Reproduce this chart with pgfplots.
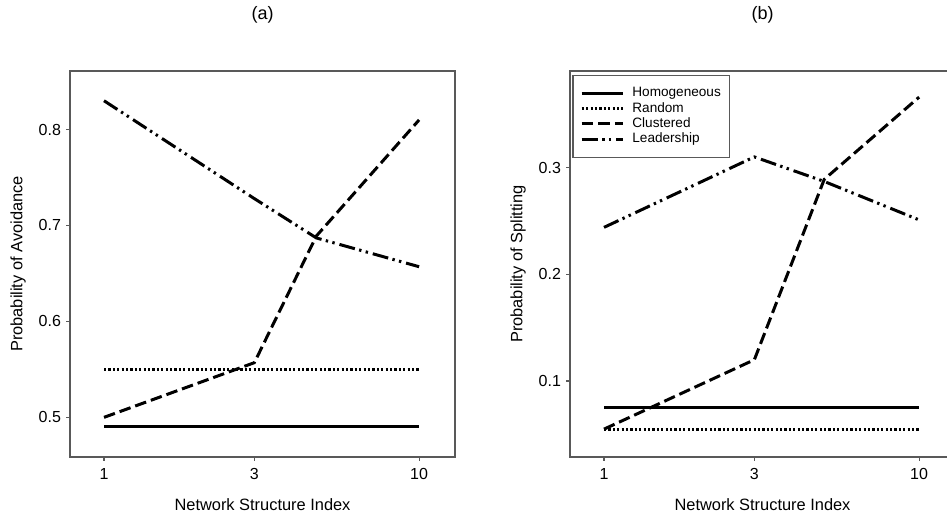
\documentclass[border=0pt]{standalone}
\usepackage{fontspec}
\setmainfont{Liberation Sans}
\usepackage{pgfplots}
\pgfplotsset{compat=1.18}

\tikzset{
  homog/.style={black, line width=1.5pt, solid},
  rand/.style={black, line width=1.5pt, dash pattern=on 1.1pt off 1.1pt},
  clust/.style={black, line width=1.5pt, dash pattern=on 5.8pt off 2.5pt},
  lead/.style={black, line width=1.5pt, dash pattern=on 8pt off 2.2pt on 1.2pt off 2.2pt on 1.2pt off 2.5pt},
}

\begin{document}
\begin{tikzpicture}
\useasboundingbox (0,0) rectangle (473.5pt,258.5pt);

% (a) avoidance
\begin{axis}[
  xmode=log, scale only axis, width=192.5pt, height=193pt,
  at={(35pt,30pt)}, anchor=south west,
  xmin=0.78, xmax=13.0,
  xtick={1,3,10}, xticklabels={1,3,10}, xminorticks=false,
  ymin=0.4587, ymax=0.861,
  ytick={0.5,0.6,0.7,0.8}, yticklabels={0.5,0.6,0.7,0.8},
  xtick pos=bottom, ytick pos=left, tick align=outside,
  major tick length=2pt,
  axis line style={draw=black!65, line width=0.8pt},
  tick style={draw=black!65, line width=0.6pt},
  tick label style={font=\fontsize{8}{9}\selectfont},
  yticklabel style={xshift=1pt},
  label style={font=\fontsize{8.2}{9}\selectfont},
  every axis title shift=0pt,
  title style={at={(0.5,1.145)}, anchor=center, font=\fontsize{9}{10}\selectfont},
  xlabel style={at={(axis description cs:0.5,-0.124)}, anchor=center},
  ylabel style={at={(axis description cs:-0.135,0.5)}, anchor=center},
  title={(a)}, xlabel={Network Structure Index}, ylabel={Probability of Avoidance}]
\addplot[homog, mark=none] coordinates {(1,0.49) (3,0.49) (4.72,0.49) (10,0.49)};
\addplot[rand, mark=none] coordinates {(1,0.55) (3,0.55) (4.72,0.55) (10,0.55)};
\addplot[clust, mark=none] coordinates {(1,0.50) (3,0.557) (4.72,0.689) (10,0.81)};
\addplot[lead, mark=none] coordinates {(1,0.83) (3,0.728) (4.72,0.687) (10,0.657)};
\end{axis}

% (b) splitting
\begin{axis}[
  xmode=log, scale only axis, width=192.5pt, height=193pt,
  at={(285pt,30pt)}, anchor=south west,
  xmin=0.78, xmax=13.0,
  xtick={1,3,10}, xticklabels={1,3,10}, xminorticks=false,
  ymin=0.0289, ymax=0.3905,
  ytick={0.1,0.2,0.3}, yticklabels={0.1,0.2,0.3},
  xtick pos=bottom, ytick pos=left, tick align=outside,
  major tick length=2pt,
  axis line style={draw=black!65, line width=0.8pt},
  tick style={draw=black!65, line width=0.6pt},
  tick label style={font=\fontsize{8}{9}\selectfont},
  yticklabel style={xshift=1pt},
  label style={font=\fontsize{8.2}{9}\selectfont},
  every axis title shift=0pt,
  title style={at={(0.5,1.145)}, anchor=center, font=\fontsize{9}{10}\selectfont},
  xlabel style={at={(axis description cs:0.5,-0.124)}, anchor=center},
  ylabel style={at={(axis description cs:-0.135,0.5)}, anchor=center},
  title={(b)}, xlabel={Network Structure Index}, ylabel={Probability of Splitting},
  legend image code/.code={\draw[#1] (0pt,0pt) -- (20.8pt,0pt);},
  legend cell align=left,
  legend style={at={(axis description cs:0,1)}, anchor=north west,
    xshift=1.2pt, yshift=-2pt, draw=black!65, line width=0.6pt,
    font=\fontsize{6.8}{7.5}\selectfont, inner xsep=3.6pt, inner ysep=5.2pt,
    nodes={inner sep=0.6pt, text height=4.9pt, text depth=1.5pt}, row sep=0pt,
    /tikz/every odd column/.append style={column sep=3.2pt}}]
\addplot[homog, mark=none] coordinates {(1,0.075) (3,0.075) (5,0.075) (10,0.075)};
\addlegendentry{Homogeneous}
\addplot[rand, mark=none] coordinates {(1,0.055) (3,0.055) (5,0.055) (10,0.055)};
\addlegendentry{Random}
\addplot[clust, mark=none] coordinates {(1,0.055) (3,0.12) (5,0.289) (10,0.366)};
\addlegendentry{Clustered}
\addplot[lead, mark=none] coordinates {(1,0.244) (3,0.31) (5,0.287) (10,0.251)};
\addlegendentry{Leadership}
\end{axis}
\end{tikzpicture}
\end{document}
